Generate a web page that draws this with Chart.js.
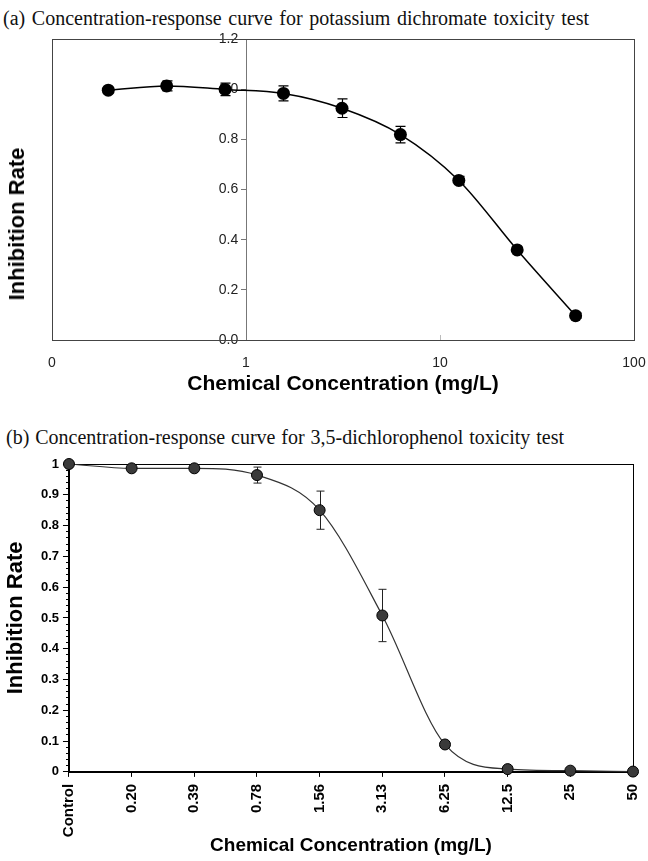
<!DOCTYPE html>
<html>
<head>
<meta charset="utf-8">
<script src="https://cdn.jsdelivr.net/npm/chart.js@4.4.1/dist/chart.umd.min.js"></script>
<style>
  html, body { margin: 0; padding: 0; background: #fff; }
  body { width: 648px; height: 861px; position: relative; overflow: hidden; }
  .title { position: absolute; font-family: "Liberation Serif", "Times New Roman", serif; font-size: 20px; line-height: 20px; white-space: nowrap; color: #111; }
  .ytitle { position: absolute; font-family: "Liberation Sans", Arial, sans-serif; font-weight: bold; font-size: 22px; line-height: 22px; white-space: nowrap; transform: translate(-50%, -50%) rotate(-90deg); color: #000; }
  #boxA { position: absolute; left: 0; top: 0; width: 648px; height: 400px; }
  #boxB { position: absolute; left: 0; top: 410px; width: 648px; height: 451px; }
</style>
</head>
<body>
<div id="titleA" class="title" style="left:3px; top:8px">(a) Concentration-response curve for potassium dichromate toxicity test</div>
<div id="titleB" class="title" style="left:6px; top:427px">(b) Concentration-response curve for 3,5-dichlorophenol toxicity test</div>
<div id="boxA"><canvas id="chartA"></canvas></div>
<div id="boxB"><canvas id="chartB"></canvas></div>
<div class="ytitle" style="left:17px; top:224px">Inhibition Rate</div>
<script>
// (a) potassium dichromate
const concA = [0.195, 0.39, 0.78, 1.56, 3.125, 6.25, 12.5, 25, 50];
const rateA = [0.996, 1.013, 0.999, 0.983, 0.924, 0.819, 0.636, 0.359, 0.097];
const errA = [0.012, 0.02, 0.025, 0.03, 0.037, 0.033, 0.016, 0.01, 0.01];
const xTicksA = [0.1, 1, 10, 100];
const xTickLabelsA = ["0", "1", "10", "100"];

// (b) 3,5-dichlorophenol
const concLabelsB = ["Control", "0.20", "0.39", "0.78", "1.56", "3.13", "6.25", "12.5", "25", "50"];
const rateB = [1.0, 0.986, 0.986, 0.964, 0.85, 0.508, 0.089, 0.009, 0.004, 0.001];
const errB = [0, 0, 0, 0.026, 0.062, 0.085, 0, 0, 0, 0];

const sans = '"Liberation Sans", Arial, sans-serif';
Chart.defaults.font.family = sans;

// stretch the words of a title to the width it has in the original
function fitTitle(id, width) {
  const el = document.getElementById(id);
  const gaps = el.textContent.split(" ").length - 1;
  const w = el.getBoundingClientRect().width;
  el.style.wordSpacing = ((width - w) / gaps) + "px";
}
fitTitle("titleA", 586);
fitTitle("titleB", 558);

// the last x label may hang over the right edge, don't shrink the plot for it
const noRightPad = scale => { scale.paddingRight = 0; };

// box round the plot area (+ small inner ticks on the x axis)
const framePlugin = {
  id: "frame",
  beforeDatasetsDraw(chart, args, opts) {
    const { ctx, chartArea: a } = chart;
    ctx.save();
    ctx.strokeStyle = opts.color;
    ctx.lineWidth = 1;
    const l = Math.round(a.left) + 0.5, t = Math.round(a.top) + 0.5;
    ctx.strokeRect(l, t, Math.round(a.right) - Math.round(a.left), Math.round(a.bottom) - Math.round(a.top));
    (opts.innerTicks || []).forEach(v => {
      const x = Math.round(chart.scales.x.getPixelForValue(v)) + 0.5;
      ctx.strokeStyle = opts.tickColor || opts.color;
      ctx.beginPath();
      ctx.moveTo(x, a.bottom);
      ctx.lineTo(x, a.bottom - 5);
      ctx.stroke();
    });
    ctx.restore();
  }
};

// vertical error bars with caps
const errorBarPlugin = {
  id: "errorBars",
  beforeDatasetsDraw(chart, args, opts) {
    const { ctx } = chart;
    chart.data.datasets.forEach((ds, i) => {
      if (!ds.errors) return;
      const meta = chart.getDatasetMeta(i);
      const yScale = chart.scales[meta.yAxisID];
      ctx.save();
      ctx.strokeStyle = opts.color;
      ctx.lineWidth = opts.width;
      meta.data.forEach((pt, j) => {
        const e = ds.errors[j];
        if (!e) return;
        const raw = ds.data[j];
        const v = typeof raw === "object" ? raw.y : raw;
        const y1 = yScale.getPixelForValue(v + e);
        const y2 = yScale.getPixelForValue(v - e);
        const x = Math.round(pt.x) + 0.5;
        ctx.beginPath();
        ctx.moveTo(x, y1); ctx.lineTo(x, y2);
        ctx.moveTo(x - opts.cap, y1); ctx.lineTo(x + opts.cap, y1);
        ctx.moveTo(x - opts.cap, y2); ctx.lineTo(x + opts.cap, y2);
        ctx.stroke();
      });
      ctx.restore();
    });
  }
};

new Chart(document.getElementById("chartA"), {
  type: "scatter",
  data: {
    datasets: [{
      data: concA.map((c, i) => ({ x: c, y: rateA[i] })),
      errors: errA,
      showLine: true,
      borderColor: "#000",
      borderWidth: 1.5,
      backgroundColor: "#000",
      pointRadius: 6.5,
      pointBorderWidth: 0,
      cubicInterpolationMode: "monotone",
      clip: false,
    }],
  },
  options: {
    responsive: true,
    maintainAspectRatio: false,
    animation: false,
    events: [],
    layout: { padding: { left: 52, right: 14, top: 39, bottom: 3 } },
    plugins: {
      legend: { display: false },
      tooltip: { enabled: false },
      frame: { color: "#444", tickColor: "#bbb", innerTicks: [10] },
      errorBars: { color: "#000", width: 1.2, cap: 5 },
    },
    scales: {
      x: {
        type: "logarithmic",
        min: 0.1,
        max: 100,
        afterBuildTicks: scale => { scale.ticks = xTicksA.map(v => ({ value: v })); },
        afterFit: noRightPad,
        ticks: {
          callback: (v, i) => xTickLabelsA[i],
          padding: 14.5,
          color: "#222",
          font: { size: 14 },
          maxRotation: 0,
          autoSkip: false,
        },
        grid: { display: false, drawTicks: false },
        border: { display: false },
        title: {
          display: true,
          text: "Chemical Concentration (mg/L)",
          color: "#000",
          font: { size: 21, weight: "bold" },
          padding: { top: -14, bottom: 0 },
        },
      },
      y: {
        // the y axis crosses the log axis at 1, labels sit left of it
        position: { x: 1 },
        min: 0,
        max: 1.2,
        ticks: {
          stepSize: 0.2,
          callback: v => v.toFixed(1) + "  ",
          color: "#222",
          font: { size: 14 },
        },
        grid: { drawOnChartArea: false, tickLength: 5, color: "#777" },
        border: { color: "#777" },
      },
    },
  },
  plugins: [framePlugin, errorBarPlugin],
});

new Chart(document.getElementById("chartB"), {
  type: "line",
  data: {
    labels: concLabelsB,
    datasets: [{
      data: rateB,
      errors: errB,
      borderColor: "#333",
      borderWidth: 1.2,
      backgroundColor: "#3a3a3a",
      pointBorderColor: "#000",
      pointBorderWidth: 1,
      pointRadius: 5.5,
      cubicInterpolationMode: "monotone",
      clip: false,
    }],
  },
  options: {
    responsive: true,
    maintainAspectRatio: false,
    animation: false,
    events: [],
    layout: { padding: { left: 3, right: 15, top: 54, bottom: 4 } },
    plugins: {
      legend: { display: false },
      tooltip: { enabled: false },
      frame: { color: "#000" },
      errorBars: { color: "#222", width: 1, cap: 4 },
    },
    scales: {
      x: {
        offset: false,
        afterFit: noRightPad,
        ticks: {
          minRotation: 90,
          maxRotation: 90,
          padding: 7,
          color: "#000",
          font: { size: 15, weight: "bold" },
          autoSkip: false,
        },
        grid: { drawOnChartArea: false, tickLength: 5, color: "#000" },
        border: { color: "#000" },
        title: {
          display: true,
          text: "Chemical Concentration (mg/L)",
          color: "#000",
          font: { size: 19, weight: "bold" },
          padding: { top: -10, bottom: 0 },
        },
      },
      y: {
        position: "left",
        min: 0,
        max: 1,
        ticks: {
          stepSize: 0.1,
          padding: 4,
          callback: v => String(+v.toFixed(1)),
          color: "#000",
          font: { size: 13, weight: "bold" },
        },
        grid: { drawOnChartArea: false, tickLength: 6, color: "#000" },
        border: { color: "#000" },
        title: {
          display: true,
          text: "Inhibition Rate",
          color: "#000",
          font: { size: 22, weight: "bold" },
          padding: { top: 0, bottom: 7.5 },
        },
      },
      yMinor: {
        axis: "y",
        position: { x: 0 },
        min: 0,
        max: 1,
        ticks: { display: false, stepSize: 0.02, autoSkip: false },
        grid: { drawOnChartArea: false, tickLength: 3, color: "#000" },
        border: { display: false },
      },
    },
  },
  plugins: [framePlugin, errorBarPlugin],
});
</script>
</body>
</html>
